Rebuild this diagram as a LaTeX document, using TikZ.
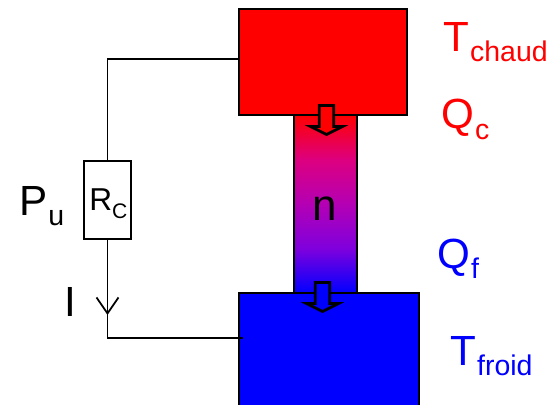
\documentclass[tikz,border=0pt]{standalone}
\usepackage{fontspec}
\setmainfont{Liberation Sans}
\usetikzlibrary{arrows.meta,positioning,calc}
\definecolor{legblue}{RGB}{127,0,221}
\definecolor{legmid}{RGB}{180,0,180}
\definecolor{legred}{RGB}{221,0,127}
\pgfdeclareverticalshading{legshade}{100bp}{
    color(0bp)=(blue);
    color(25bp)=(blue);
    color(37.5bp)=(legblue);
    color(50bp)=(legmid);
    color(62.5bp)=(legred);
    color(75bp)=(red);
    color(100bp)=(red)}
\newcommand{\biglabel}[2]{\fontsize{24}{24}\selectfont #1\kern0.02cm\raisebox{-0.2cm}{\fontsize{16.2}{16.2}\selectfont #2}}
\tikzset{
    block/.style={draw,line width=1.4pt,inner sep=0pt,minimum width=#1},
    wire/.style={line width=1pt},
    textlabel/.style={anchor=base west,inner sep=0pt},
    heatarrow/.pic={
        \draw[line width=1.6pt,miter limit=10,pic actions] (-0.145,0) -- (-0.145,-0.42) -- (-0.32,-0.42)
            -- (0,-0.58) -- (0.32,-0.42) -- (0.145,-0.42) -- (0.145,0) -- cycle;
    }
}
\begin{document}
\begin{tikzpicture}
    \useasboundingbox (0,0) rectangle (11.12,8.08);
    \clip (0,0) rectangle (11.12,8.08);
    \node[block=1.26cm,minimum height=3.56cm,shading=legshade] (leg) at (6.51,4.0) {};
    \node[block=3.36cm,minimum height=2.12cm,fill=red] (hot) at (6.46,6.84) {};
    \node[block=3.6cm,minimum height=2.44cm,fill=blue] (cold) at (6.58,1.0) {};
    \node[block=0.94cm,minimum height=1.56cm,fill=white] (rc) at (2.15,4.08) {};
    \node[textlabel] (rclabel) at (1.78,3.86) {\fontsize{18}{18}\selectfont R\raisebox{-0.14cm}{\fontsize{12}{12}\selectfont C}};
    \node[anchor=base] (n) at (6.5,3.68) {\fontsize{25}{25}\selectfont n};

    \coordinate (hotwire) at (4.78,6.9);
    \coordinate (coldwire) at (4.86,1.32);
    \coordinate (tip) at (2.15,1.78);
    \coordinate (barbstart) at (2.15,2.3);
    \draw[wire] (hotwire) -| (rc.north);
    \draw[wire] (rc.south) |- (coldwire);
    \draw[wire,-{Straight Barb[length=0.32cm,width=0.44cm]}] (barbstart) -- (tip);

    \pic[fill=red] at (6.53,5.97) {heatarrow};
    \pic[fill=blue] at (6.45,2.43) {heatarrow};

    \node[textlabel,red] (tchaud) at (8.86,7.04) {\biglabel{T}{chaud}};
    \node[textlabel,red] (qc) at (8.82,5.5) {\biglabel{Q}{c}};
    \node[textlabel,blue] (qf) at (8.74,2.72) {\biglabel{Q}{f}};
    \node[textlabel,blue] (tfroid) at (9.0,0.78) {\biglabel{T}{froid}};
    \node[textlabel] (pu) at (0.38,3.78) {\biglabel{P}{u}};
    \node[textlabel] (i) at (1.28,1.76) {\biglabel{I}{}};
\end{tikzpicture}
\end{document}
